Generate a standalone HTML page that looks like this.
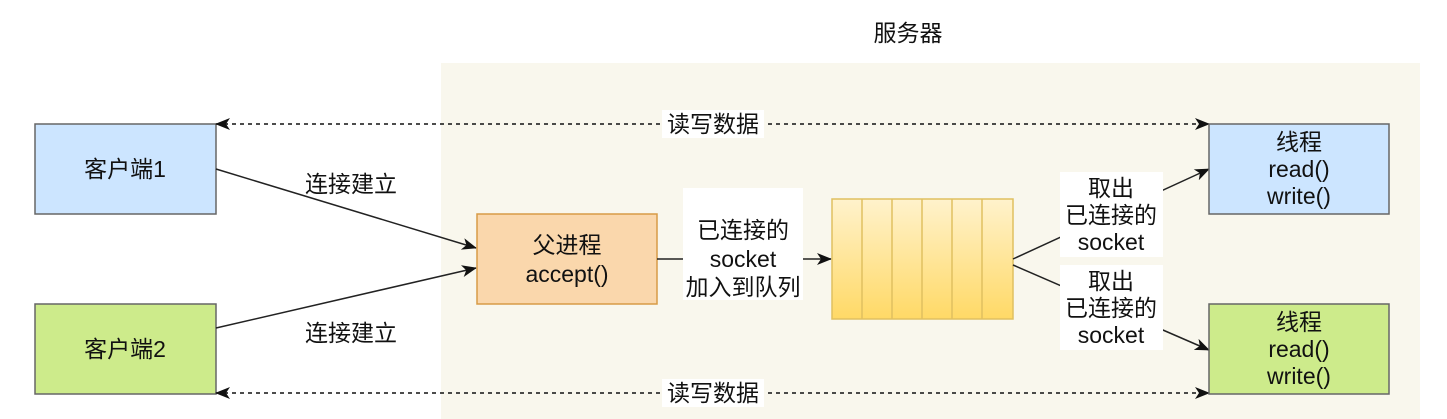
<!DOCTYPE html>
<html><head><meta charset="utf-8"><style>
html,body{margin:0;padding:0;background:#fff;}
svg{display:block;}
text{font-family:"Liberation Sans","Noto Sans CJK SC",sans-serif;font-size:23px;fill:#111;text-anchor:middle;}
</style></head><body>
<svg width="1447" height="419" viewBox="0 0 1447 419" xmlns="http://www.w3.org/2000/svg">
<defs>
<linearGradient id="q" x1="0" y1="0" x2="0" y2="1"><stop offset="0" stop-color="#fff2cc"/><stop offset="1" stop-color="#ffd966"/></linearGradient>
<marker id="a" markerWidth="16" markerHeight="16" refX="14" refY="8" orient="auto" markerUnits="userSpaceOnUse"><path d="M0,2 L15,8 L0,14 L4,8 Z" fill="#111"/></marker>
<marker id="as" markerWidth="16" markerHeight="16" refX="14" refY="8" orient="auto-start-reverse" markerUnits="userSpaceOnUse"><path d="M0,2 L15,8 L0,14 L4,8 Z" fill="#111"/></marker>
</defs>
<rect x="441" y="63" width="979" height="356" fill="#f9f7ed"/>
<text x="908" y="41">服务器</text>

<rect x="35" y="124" width="181" height="90" fill="#cce5ff" stroke="#666" stroke-width="1.5"/>
<text x="125" y="177">客户端1</text>
<rect x="35" y="304" width="181" height="90" fill="#cdeb8b" stroke="#666" stroke-width="1.5"/>
<text x="125" y="357">客户端2</text>

<line x1="216" y1="124" x2="1209" y2="124" stroke="#111" stroke-width="1.5" stroke-dasharray="4,4" marker-start="url(#as)" marker-end="url(#a)"/>
<rect x="662" y="110" width="102" height="28" fill="#fff"/>
<text x="713" y="132">读写数据</text>
<line x1="216" y1="393" x2="1209" y2="393" stroke="#111" stroke-width="1.5" stroke-dasharray="4,4" marker-start="url(#as)" marker-end="url(#a)"/>
<rect x="662" y="379" width="102" height="28" fill="#fff"/>
<text x="713" y="401">读写数据</text>

<line x1="216" y1="169" x2="476" y2="248" stroke="#222" stroke-width="1.5" marker-end="url(#a)"/>
<line x1="216" y1="328" x2="476" y2="268" stroke="#222" stroke-width="1.5" marker-end="url(#a)"/>
<text x="351" y="192">连接建立</text>
<text x="351" y="341">连接建立</text>

<rect x="477" y="214" width="180" height="90" fill="#fad7ac" stroke="#d79b46" stroke-width="1.5"/>
<text x="567" y="253">父进程</text>
<text x="567" y="282">accept()</text>

<line x1="657" y1="259" x2="831" y2="259" stroke="#222" stroke-width="1.5" marker-end="url(#a)"/>
<rect x="683" y="188" width="120" height="112" fill="#fff"/>
<text x="743" y="238">已连接的</text>
<text x="743" y="267">socket</text>
<text x="743" y="295">加入到队列</text>

<rect x="832" y="199" width="181" height="120" fill="url(#q)" stroke="#e0c060" stroke-width="1.5"/>
<g stroke="#e0c060" stroke-width="1.5">
<line x1="862" y1="199" x2="862" y2="319"/><line x1="892" y1="199" x2="892" y2="319"/>
<line x1="922" y1="199" x2="922" y2="319"/><line x1="952" y1="199" x2="952" y2="319"/>
<line x1="982" y1="199" x2="982" y2="319"/>
</g>

<line x1="1013" y1="259" x2="1209" y2="169" stroke="#222" stroke-width="1.5" marker-end="url(#a)"/>
<line x1="1013" y1="265" x2="1209" y2="350" stroke="#222" stroke-width="1.5" marker-end="url(#a)"/>
<rect x="1060" y="172" width="103" height="85" fill="#fff"/>
<text x="1111" y="196">取出</text>
<text x="1111" y="223">已连接的</text>
<text x="1111" y="250">socket</text>
<rect x="1060" y="265" width="103" height="85" fill="#fff"/>
<text x="1111" y="289">取出</text>
<text x="1111" y="316">已连接的</text>
<text x="1111" y="343">socket</text>

<rect x="1209" y="124" width="180" height="90" fill="#cce5ff" stroke="#666" stroke-width="1.5"/>
<text x="1299" y="150">线程</text>
<text x="1299" y="177">read()</text>
<text x="1299" y="204">write()</text>
<rect x="1209" y="304" width="180" height="90" fill="#cdeb8b" stroke="#666" stroke-width="1.5"/>
<text x="1299" y="330">线程</text>
<text x="1299" y="357">read()</text>
<text x="1299" y="384">write()</text>
</svg>
</body></html>
